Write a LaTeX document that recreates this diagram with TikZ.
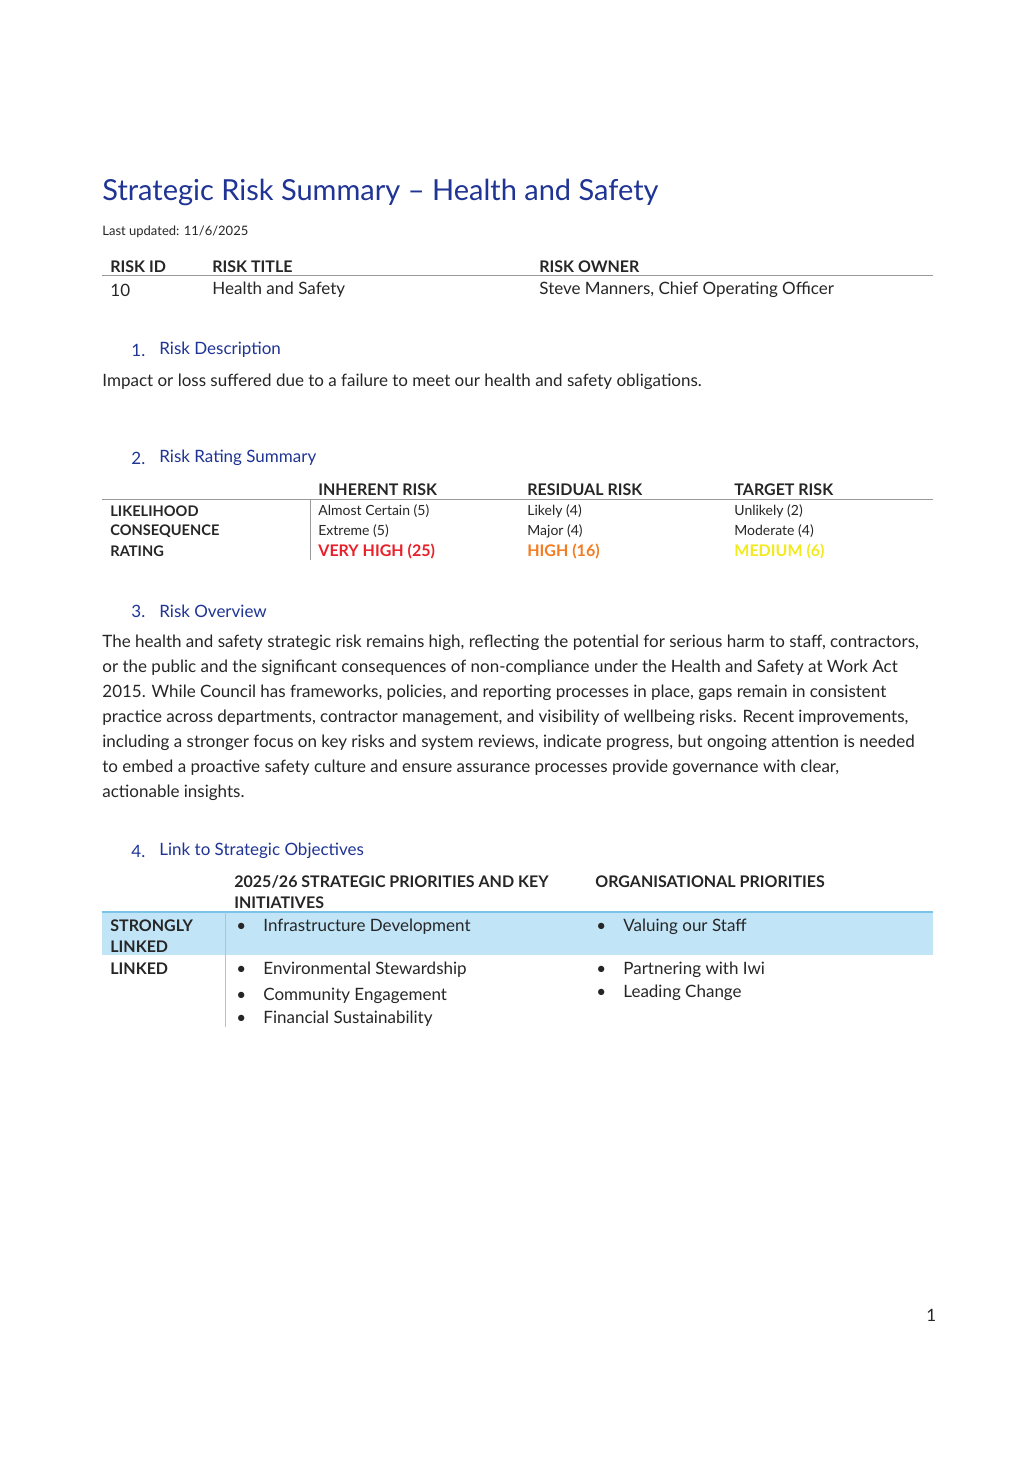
\documentclass[tikz,border=0pt]{standalone}
\usepackage{fontspec}
\setmainfont{Lato}
\definecolor{titleblue}{HTML}{1F3494}
\definecolor{bandblue}{HTML}{C1E4F7}
\definecolor{bandline}{HTML}{7CC3EA}
\definecolor{veryhigh}{HTML}{E8202A}
\definecolor{high}{HTML}{F47B20}
\definecolor{medium}{HTML}{F2EA1C}
\tikzset{
  txt/.style={anchor=west, inner sep=0pt, yshift=-1pt, font=\fontsize{8.5}{10}\selectfont, text=black!85},
  small/.style={txt, font=\fontsize{7}{8}\selectfont},
  hdr/.style={txt, font=\fontsize{8}{9}\selectfont\bfseries},
  lbl/.style={txt, font=\fontsize{7.3}{9}\selectfont\bfseries},
  sect/.style={txt, font=\fontsize{8.5}{10}\selectfont, text=titleblue},
  rule/.style={draw=black!40, line width=0.5pt},
}
\begin{document}
\begin{tikzpicture}[x=0.5pt, y=-0.5pt]
\useasboundingbox[fill=white] (0,0) rectangle (1035,1465);
% title block
\node[txt, font=\fontsize{14.5}{16}\selectfont, text=titleblue] (title) at (102,190) {Strategic Risk Summary -- Health and Safety};
\node[small, font=\fontsize{6.5}{8}\selectfont] (updated) at (102,230) {Last updated: 11/6/2025};
% risk id table
\node[hdr] (idh) at (110,265) {RISK ID};
\node[hdr] (titleh) at (212,265) {RISK TITLE};
\node[hdr] (ownerh) at (539,265) {RISK OWNER};
\coordinate (l1a) at (102,276); \coordinate (l1b) at (933,276);
\draw[rule] (l1a) -- (l1b);
\node[txt] (idv) at (110,288) {10};
\node[txt] (titlev) at (212,288) {Health and Safety};
\node[txt] (ownerv) at (539,288) {Steve Manners, Chief Operating Officer};
% 1
\node[sect] (s1n) at (131,348) {1.};
\node[sect] (s1) at (159,348) {Risk Description};
\node[txt] (desc) at (102,380) {Impact or loss suffered due to a failure to meet our health and safety obligations.};
% 2
\node[sect] (s2n) at (131,456) {2.};
\node[sect] (s2) at (159,456) {Risk Rating Summary};
\node[hdr] (inh) at (318,488) {INHERENT RISK};
\node[hdr] (resh) at (527,488) {RESIDUAL RISK};
\node[hdr] (tarh) at (734,488) {TARGET RISK};
\coordinate (l2a) at (102,499); \coordinate (l2b) at (933,499);
\draw[rule] (l2a) -- (l2b);
\coordinate (v2a) at (310,499); \coordinate (v2b) at (310,560);
\draw[rule] (v2a) -- (v2b);
\node[lbl] (likl) at (110,509) {LIKELIHOOD};
\node[lbl] (conl) at (110,529) {CONSEQUENCE};
\node[lbl] (ratl) at (110,549) {RATING};
\node[small] (inl) at (318,509) {Almost Certain (5)};
\node[small] (inc) at (318,529) {Extreme (5)};
\node[hdr, text=veryhigh] (inr) at (318,549) {VERY HIGH (25)};
\node[small] (resl) at (527,509) {Likely (4)};
\node[small] (resc) at (527,529) {Major (4)};
\node[hdr, text=high] (resr) at (527,549) {HIGH (16)};
\node[small] (tarl) at (734,509) {Unlikely (2)};
\node[small] (tarc) at (734,529) {Moderate (4)};
\node[hdr, text=medium] (tarr) at (734,549) {MEDIUM (6)};
% 3
\node[sect] (s3n) at (131,609) {3.};
\node[sect] (s3) at (159,609) {Risk Overview};
\foreach \y/\t [count=\i] in {641/{The health and safety strategic risk remains high, reflecting the potential for serious harm to staff, contractors,},
  666/{or the public and the significant consequences of non-compliance under the Health and Safety at Work Act},
  691/{2015. While Council has frameworks, policies, and reporting processes in place, gaps remain in consistent},
  716/{practice across departments, contractor management, and visibility of wellbeing risks. Recent improvements,},
  741/{including a stronger focus on key risks and system reviews, indicate progress, but ongoing attention is needed},
  766/{to embed a proactive safety culture and ensure assurance processes provide governance with clear,},
  791/{actionable insights.}}
  \node[txt] (ov\i) at (102,\y) {\t};
% 4
\node[sect] (s4n) at (131,849) {4.};
\node[sect] (s4) at (159,849) {Link to Strategic Objectives};
\node[hdr] (sph1) at (234,880) {2025/26 STRATEGIC PRIORITIES AND KEY};
\node[hdr] (sph2) at (234,901) {INITIATIVES};
\node[hdr] (orgh) at (595,880) {ORGANISATIONAL PRIORITIES};
\fill[bandblue] (102,912) rectangle (933,955);
\coordinate (l4a) at (102,912); \coordinate (l4b) at (933,912);
\draw[draw=bandline, line width=0.6pt] (l4a) -- (l4b);
\coordinate (v4a) at (225,912); \coordinate (v4b) at (225,1027);
\draw[draw=black!25, line width=0.5pt] (v4a) -- (v4b);
\node[hdr] (strl1) at (110,924) {STRONGLY};
\node[hdr] (strl2) at (110,945) {LINKED};
\node[hdr] (linl) at (110,967) {LINKED};
\foreach \x/\y/\t [count=\i] in {236/925/Infrastructure Development, 236/968/Environmental Stewardship,
  236/994/Community Engagement, 236/1017/Financial Sustainability,
  596/925/Valuing our Staff, 596/968/Partnering with Iwi, 596/991/Leading Change} {
  \node[txt] (b\i) at (\x,\y) {\textbullet};
  \node[txt] (p\i) at (\x+27,\y) {\t};
}
\node[txt] (page) at (926,1313) {1};
\end{tikzpicture}
\end{document}
